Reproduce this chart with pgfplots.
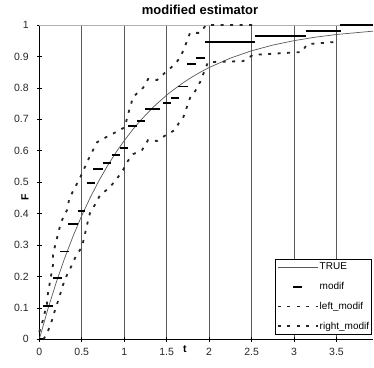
\documentclass[border=0pt]{standalone}
\usepackage{fontspec}
\setmainfont{Liberation Sans}
\usepackage{pgfplots}
\pgfplotsset{compat=1.18}
\begin{document}
\begin{tikzpicture}
\begin{axis}[
  name=ax,
  scale only axis, width=333.7pt, height=314.3pt,
  xmin=0, xmax=3.93, ymin=0, ymax=1,
  clip=false,
  axis x line*=bottom, axis y line*=left,
  axis line style={black, line width=0.8pt},
  xtick={0,0.5,1,1.5,2,2.5,3,3.5},
  ytick={0,0.1,0.2,0.3,0.4,0.5,0.6,0.7,0.8,0.9,1},
  xticklabels={0,0.5,1,1.5,2,2.5,3,3.5},
  yticklabels={0,0.1,0.2,0.3,0.4,0.5,0.6,0.7,0.8,0.9,1},
  xmajorgrids,
  major grid style={gray!70!black, line width=0.8pt},
  extra y ticks={1}, extra y tick labels={},
  extra y tick style={grid=major, major tick length=0pt, major grid style={gray!60, line width=0.8pt}},
  tick align=center, major tick length=5pt,
  tick style={black, line width=0.6pt},
  tick label style={font=\fontsize{10.5}{12}\selectfont, text=black!85},
  yticklabel style={anchor=east, inner sep=0pt, xshift=-8pt},
  xticklabel style={anchor=north, inner sep=0pt, yshift=-6pt},
  /pgf/number format/assume math mode=true,
  title={modified estimator},
  title style={font=\bfseries\fontsize{13}{15}\selectfont, at={(axis description cs:0.4816,1)}, anchor=base, yshift=4pt, inner sep=0pt},
  xlabel={t}, ylabel={F},
  xlabel style={font=\bfseries\fontsize{10.5}{12}\selectfont, at={(axis description cs:0.4366,0)}, anchor=north, inner sep=0pt, yshift=-6pt},
  ylabel style={font=\bfseries\fontsize{10.5}{12}\selectfont, at={(axis description cs:-0.043,0.453)}, anchor=center, inner sep=0pt},
  unbounded coords=jump,
  legend style={at={(axis description cs:0.997,0.0137)}, anchor=south east, draw=black, line width=0.6pt,
    font=\fontsize{10}{12}\selectfont, inner xsep=1.5pt, inner ysep=3pt, row sep=9pt,
    nodes={inner sep=1pt}},
  legend cell align=left,
]
% TRUE
\addplot[gray!70!black, line width=0.7pt,
  legend image code/.code={\draw[gray!70!black, line width=0.7pt] (0pt,0pt) -- (40pt,0pt);}]
table[row sep=\\]{
t F\\
0 0\\ 0.1 0.0952\\ 0.2 0.1813\\ 0.3 0.2592\\ 0.4 0.3297\\ 0.5 0.3935\\
0.6 0.4512\\ 0.7 0.5034\\ 0.8 0.5507\\ 0.9 0.5934\\ 1.0 0.6321\\ 1.1 0.6671\\
1.2 0.6988\\ 1.35 0.7408\\ 1.5 0.7769\\ 1.55 0.7878\\ 1.7 0.8173\\ 1.8 0.8347\\
1.9 0.8504\\ 2.0 0.8647\\ 2.25 0.8946\\ 2.5 0.9179\\ 2.75 0.9361\\ 3.0 0.9502\\
3.25 0.9612\\ 3.5 0.9698\\ 3.93 0.9804\\
};
\addlegendentry{TRUE}
% modif
\addplot[black, line width=1.7pt,
  legend image code/.code={\draw[black, line width=1.7pt] (15pt,0pt) -- (24pt,0pt);}]
table[row sep=\\]{
t F\\
0 0\\ 0.047 0\\ nan nan\\
0.047 0.106\\ 0.157 0.106\\ nan nan\\
0.165 0.194\\ 0.264 0.194\\ nan nan\\
0.244 0.279\\ 0.353 0.279\\ nan nan\\
0.342 0.367\\ 0.459 0.367\\ nan nan\\
0.452 0.408\\ 0.538 0.408\\ nan nan\\
0.558 0.498\\ 0.656 0.498\\ nan nan\\
0.636 0.541\\ 0.747 0.541\\ nan nan\\
0.747 0.562\\ 0.841 0.562\\ nan nan\\
0.853 0.586\\ 0.950 0.586\\ nan nan\\
0.950 0.608\\ 1.048 0.608\\ nan nan\\
1.048 0.679\\ 1.154 0.679\\ nan nan\\
1.154 0.695\\ 1.245 0.695\\ nan nan\\
1.245 0.732\\ 1.420 0.732\\ nan nan\\
1.453 0.751\\ 1.547 0.751\\ nan nan\\
1.547 0.767\\ 1.649 0.767\\ nan nan\\
1.637 0.804\\ 1.748 0.804\\ nan nan\\
1.743 0.875\\ 1.846 0.875\\ nan nan\\
1.846 0.894\\ 1.952 0.894\\ nan nan\\
1.952 0.947\\ 2.540 0.947\\ nan nan\\
2.540 0.965\\ 3.140 0.965\\ nan nan\\
3.140 0.982\\ 3.550 0.982\\ nan nan\\
3.540 1.000\\ 3.930 1.000\\
};
\addlegendentry{modif}
% left_modif (upper)
\addplot[black!85, line width=1.8pt, dash pattern=on 3pt off 6.5pt,
  legend image code/.code={\draw[black!85, line width=1.8pt, dash pattern=on 3pt off 6.5pt] (0pt,0pt) -- (40pt,0pt);}]
table[row sep=\\]{
t F\\
0 0.023\\ 0.044 0.062\\ 0.091 0.115\\ 0.102 0.147\\ 0.161 0.236\\ 0.161 0.268\\
0.185 0.297\\ 0.256 0.373\\ 0.326 0.411\\ 0.350 0.443\\ 0.397 0.472\\ 0.468 0.507\\
0.515 0.535\\ 0.574 0.570\\ 0.621 0.596\\ 0.680 0.627\\ 0.786 0.643\\ 0.880 0.656\\
1.009 0.675\\ 1.033 0.704\\ 1.104 0.771\\ 1.222 0.800\\ 1.281 0.828\\ 1.386 0.825\\
1.492 0.851\\ 1.575 0.870\\ 1.657 0.895\\ 1.704 0.924\\ 1.775 0.975\\ 1.893 0.975\\
1.964 1.000\\ 2.517 1.000\\
};
\addlegendentry{left\_modif}
% right_modif (lower)
\addplot[black!85, line width=1.8pt, dash pattern=on 3pt off 6.5pt,
  legend image code/.code={\draw[black!85, line width=1.8pt, dash pattern=on 3pt off 6.5pt] (0pt,0pt) -- (40pt,0pt);}]
table[row sep=\\]{
t F\\
0.050 0.000\\ 0.102 0.026\\ 0.150 0.061\\ 0.185 0.093\\ 0.232 0.131\\ 0.279 0.173\\
0.326 0.205\\ 0.373 0.230\\ 0.432 0.265\\ 0.503 0.294\\ 0.562 0.364\\ 0.597 0.402\\
0.668 0.434\\ 0.715 0.459\\ 0.821 0.481\\ 0.903 0.507\\ 0.986 0.538\\ 1.033 0.564\\
1.104 0.589\\ 1.210 0.602\\ 1.281 0.634\\ 1.386 0.631\\ 1.492 0.650\\ 1.598 0.666\\
1.657 0.695\\ 1.693 0.704\\ 1.775 0.768\\ 1.822 0.783\\ 1.893 0.818\\ 1.987 0.882\\
2.399 0.885\\ 2.517 0.905\\ 3.094 0.914\\ 3.153 0.939\\ 3.483 0.946\\
};
\addlegendentry{right\_modif}
\coordinate (ll) at (rel axis cs:0,0);
\end{axis}
\pgfresetboundingbox
\path (ll) ++(-39.3pt,-27.7pt) rectangle ++(374pt,367pt);
\end{tikzpicture}
\end{document}
